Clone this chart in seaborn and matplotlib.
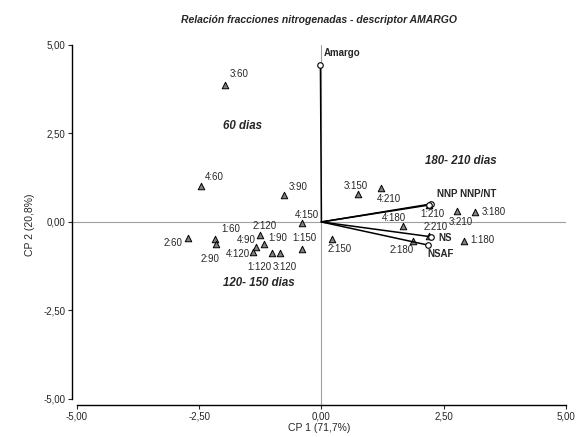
import pandas as pd
import matplotlib
matplotlib.use("Agg")
import matplotlib.pyplot as plt
import seaborn as sns

# Scores (CP1, CP2) per sample
labels = ["3:60", "4:60", "3:90", "4:150", "2:120", "1:60", "2:60", "2:90",
          "4:90", "1:90", "1:150", "4:120", "1:120", "3:120", "2:150",
          "3:150", "4:210", "4:180", "2:180", "3:210", "3:180", "1:180",
          "1:210", "2:210"]
cp1 = [-1.98, -2.47, -0.76, -0.39, -1.25, -2.17, -2.72, -2.15,
       -1.33, -1.17, -0.39, -1.39, -1.02, -0.84, 0.22,
       0.74, 1.21, 1.66, 1.88, 2.78, 3.15, 2.92,
       2.21, 2.19]
cp2 = [3.87, 1.02, 0.76, -0.03, -0.37, -0.48, -0.45, -0.62,
       -0.71, -0.62, -0.76, -0.85, -0.88, -0.88, -0.48,
       0.79, 0.96, -0.11, -0.54, 0.31, 0.28, -0.54,
       0.48, -0.40]

# label offsets (pixels: left edge dx, centre dy)
label_offsets = {
    "3:60": (5, 11), "4:60": (4, 9), "3:90": (4, 8), "4:150": (-8, 8),
    "2:120": (-8, 9), "1:60": (6, 10), "2:60": (-25, -5), "2:90": (-16, -15),
    "4:90": (-20, 7), "1:90": (4, 6), "1:150": (-10, 11), "4:120": (-28, -2),
    "1:120": (-24, -14), "3:120": (-8, -14), "2:150": (-5, -10),
    "3:150": (-14, 8), "4:210": (-4, -11), "4:180": (-21, 8), "2:180": (-24, -9),
    "3:210": (-9, -11), "3:180": (6, 0), "1:180": (6, 1), "1:210": (-9, -9),
    "2:210": (-5, 9),
}

# Variable vectors (NNP and NNP/NT nearly coincide and share one label)
var_names = ["Amargo", "NNP", "NNP/NT", "NS", "NSAF"]
var_x = [-0.02, 2.25, 2.21, 2.25, 2.17]
var_y = [4.44, 0.51, 0.48, -0.42, -0.65]
var_text = {"Amargo": "Amargo", "NNP": "NNP NNP/NT", "NNP/NT": "",
            "NS": "NS", "NSAF": "NSAF"}
var_offsets = {"Amargo": (3, 12), "NNP": (6, 10), "NNP/NT": (0, 0),
               "NS": (7, -1), "NSAF": (0, -9)}

groups = ["60 dias", "180- 210 dias", "120- 150 dias"]
group_x = [-1.62, 2.86, -1.29]
group_y = [2.71, 1.72, -1.72]

df = pd.DataFrame({"label": labels, "CP1": cp1, "CP2": cp2})

sns.set_style("white")
plt.rcParams["font.family"] = ["Liberation Sans", "DejaVu Sans"]

fig = plt.figure(figsize=(5.77, 4.37), dpi=100)
ax = fig.add_axes([0.1248, 0.0732, 0.856, 0.824])

ax.axhline(0, color="#a0a0a0", lw=0.8, zorder=1)
ax.axvline(0, color="#a0a0a0", lw=0.8, zorder=1)

sns.scatterplot(data=df, x="CP1", y="CP2", marker="^", s=22, color="#808080",
                edgecolor="black", linewidth=0.7, ax=ax, zorder=3)
for lab, x, y in zip(labels, cp1, cp2):
    dx, dy = label_offsets[lab]
    ax.annotate(lab, (x, y), xytext=(dx, dy), textcoords="offset pixels",
                ha="left", va="center", fontsize=7, zorder=5)

for name, x, y in zip(var_names, var_x, var_y):
    ax.plot([0, x], [0, y], color="black", lw=1.1, zorder=4)
    if var_text[name]:
        dx, dy = var_offsets[name]
        ax.annotate(var_text[name], (x, y), xytext=(dx, dy),
                    textcoords="offset pixels", ha="left", va="center",
                    fontsize=7, fontweight="bold", zorder=5)
ax.scatter(var_x, var_y, s=16, facecolor="white", edgecolor="black",
           linewidth=0.8, zorder=6)

for g, x, y in zip(groups, group_x, group_y):
    ax.text(x, y, g, ha="center", va="center", fontsize=8.3,
            fontweight="bold", fontstyle="italic")

ax.set_xlim(-5.1, 5.0)
ax.set_ylim(-5.17, 5.0)
ticks = [-5, -2.5, 0, 2.5, 5]
tick_labels = ["-5,00", "-2,50", "0,00", "2,50", "5,00"]
ax.set_xticks(ticks)
ax.set_xticklabels(tick_labels, fontsize=7)
ax.set_yticks(ticks)
ax.set_yticklabels(tick_labels, fontsize=7)
ax.tick_params(axis="both", direction="out", length=3, width=0.8,
               bottom=True, left=True, pad=2)

sns.despine(ax=ax)
ax.spines["left"].set_bounds(-5, 5)
ax.spines["bottom"].set_bounds(-5, 5)
for s in ["left", "bottom"]:
    ax.spines[s].set_color("black")
    ax.spines[s].set_linewidth(1.0)

ax.set_xlabel("CP 1 (71,7%)", fontsize=7.5, labelpad=1)
ax.set_ylabel("CP 2 (20,8%)", fontsize=7.5, labelpad=6)
ax.set_title("Relación fracciones nitrogenadas - descriptor AMARGO",
             fontsize=7.5, fontweight="bold", fontstyle="italic", pad=16)

plt.savefig("out.png", dpi=100)
